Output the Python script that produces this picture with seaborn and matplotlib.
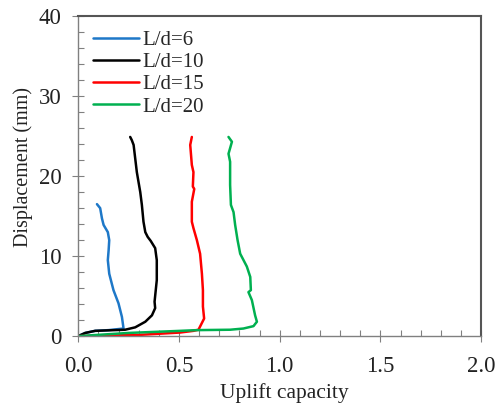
import matplotlib
matplotlib.use("Agg")
import matplotlib.pyplot as plt
import seaborn as sns
import pandas as pd
from matplotlib.ticker import MultipleLocator, FormatStrFormatter

labels = ["L/d=6", "L/d=10", "L/d=15", "L/d=20"]
colors = ["#1E78C8", "#000000", "#FF0000", "#00B050"]

cap_6 = [0.0, 0.035, 0.084, 0.15, 0.225, 0.217, 0.2, 0.175, 0.154, 0.147, 0.151, 0.154,
         0.147, 0.126, 0.118, 0.109, 0.093]
disp_6 = [0.0, 0.4, 0.66, 0.75, 0.95, 2.4, 4.1, 5.75, 7.8, 9.5, 10.75, 12.0,
          13.0, 13.9, 14.7, 16.0, 16.5]

cap_10 = [0.0, 0.035, 0.084, 0.233, 0.283, 0.333, 0.366, 0.382, 0.379, 0.39, 0.39, 0.382,
          0.36, 0.345, 0.333, 0.324, 0.316, 0.308, 0.291, 0.283, 0.275, 0.266, 0.258]
disp_10 = [0.0, 0.4, 0.66, 0.8, 1.1, 1.8, 2.6, 3.5, 4.3, 7.0, 9.5, 11.0,
           11.9, 12.4, 13.0, 14.3, 16.4, 18.0, 20.5, 22.2, 23.9, 24.5, 24.9]

cap_15 = [0.0, 0.3, 0.506, 0.572, 0.597, 0.609, 0.625, 0.619, 0.619, 0.614, 0.605, 0.589,
          0.572, 0.564, 0.564, 0.576, 0.569, 0.572, 0.564, 0.556, 0.564]
disp_15 = [0.0, 0.15, 0.45, 0.66, 0.8, 1.4, 2.2, 3.7, 5.75, 7.8, 10.3, 12.0,
           13.5, 14.3, 16.8, 18.4, 18.7, 20.5, 21.4, 23.9, 24.9]

cap_20 = [0.0, 0.25, 0.506, 0.589, 0.754, 0.82, 0.87, 0.887, 0.878, 0.862, 0.845, 0.857,
          0.854, 0.837, 0.804, 0.791, 0.779, 0.771, 0.758, 0.754, 0.754, 0.746, 0.754,
          0.763, 0.746]
disp_20 = [0.0, 0.4, 0.66, 0.75, 0.8, 0.95, 1.25, 1.8, 2.6, 4.5, 5.5, 5.75,
           7.4, 8.7, 10.3, 12.0, 13.9, 15.5, 16.4, 18.9, 21.8, 22.8, 23.5,
           24.3, 24.9]

caps = [cap_6, cap_10, cap_15, cap_20]
disps = [disp_6, disp_10, disp_15, disp_20]

frames = []
for lab, c, d in zip(labels, caps, disps):
    frames.append(pd.DataFrame({"Uplift capacity": c, "Displacement (mm)": d, "case": lab}))
df = pd.concat(frames, ignore_index=True)

sns.set_style("ticks")
plt.rcParams['font.family'] = ['Liberation Serif', 'DejaVu Serif']

fig = plt.figure(figsize=(4.95, 4.04), dpi=100)
ax = fig.add_axes([0.158, 0.168, 0.814, 0.792])

sns.lineplot(data=df, x="Uplift capacity", y="Displacement (mm)", hue="case",
             hue_order=labels, palette=colors, sort=False, estimator=None,
             linewidth=1.8, ax=ax)

ax.set_xlim(0, 2.0)
ax.set_ylim(0, 40)
ax.xaxis.set_major_locator(MultipleLocator(0.5))
ax.xaxis.set_minor_locator(MultipleLocator(0.1))
ax.yaxis.set_major_locator(MultipleLocator(10))
ax.yaxis.set_minor_locator(MultipleLocator(2))
ax.xaxis.set_major_formatter(FormatStrFormatter("%.1f"))
ax.tick_params(which="major", direction="inout", length=8, width=0.8, color="#808080",
               labelsize=16.5, labelcolor="#222222")
ax.tick_params(axis="x", which="major", pad=10)
ax.tick_params(axis="y", which="major", pad=8)
ax.tick_params(which="minor", direction="in", length=4, width=0.8, color="#808080")
for s in ["left", "bottom"]:
    ax.spines[s].set_color("#808080")
    ax.spines[s].set_linewidth(1.0)
for s in ["top", "right"]:
    ax.spines[s].set_color("#555555")
    ax.spines[s].set_linewidth(1.5)

ax.set_xlabel("Uplift capacity", fontsize=15.5, color="#222222")
ax.set_ylabel("Displacement (mm)", fontsize=14.5, color="#222222")
ax.xaxis.set_label_coords(0.511, -0.148)
ax.yaxis.set_label_coords(-0.112, 0.528)

leg = ax.legend(loc="upper left", frameon=False, fontsize=15, handlelength=2.2,
                handletextpad=0.2, labelspacing=0.12, borderaxespad=0.3,
                bbox_to_anchor=(0.0, 1.0))
for h in leg.get_lines():
    h.set_linewidth(1.8)

fig.savefig("out.png", dpi=100)
